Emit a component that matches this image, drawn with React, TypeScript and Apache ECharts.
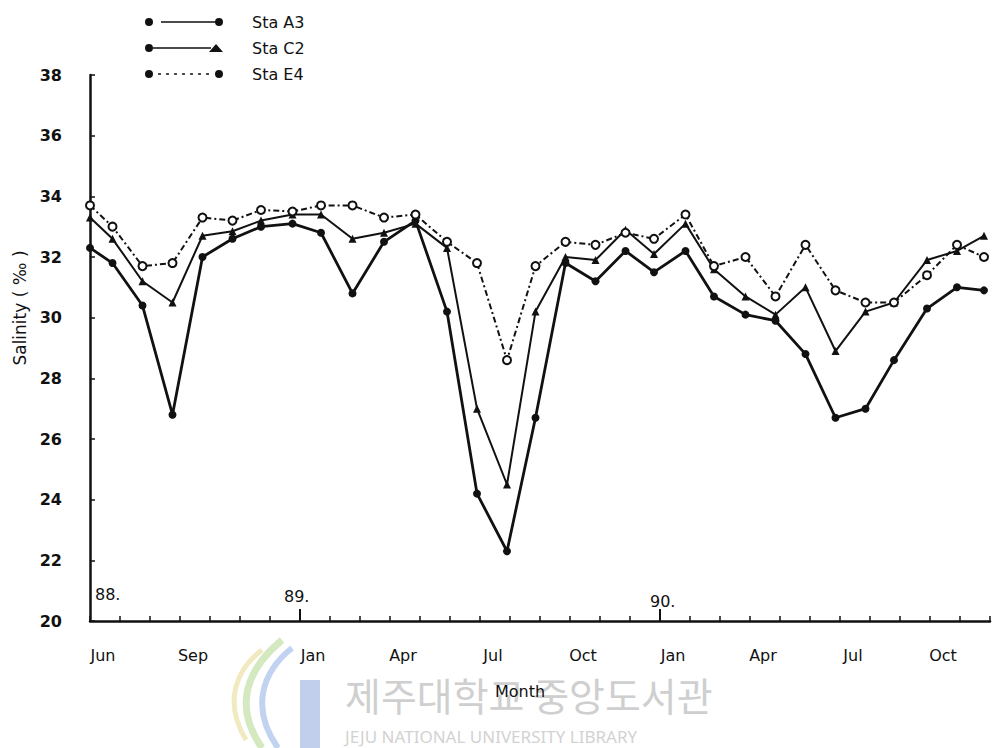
import React, { useEffect, useRef } from "react";
import * as echarts from "echarts";

// sampling times, in months after June 1988 (0 = Jun 88)
const sampleMonth = [0, 0.75, 1.75, 2.75, 3.75, 4.75, 5.7, 6.75, 7.7, 8.75, 9.8, 10.85, 11.9, 12.9, 13.9, 14.85, 15.85, 16.85, 17.85, 18.8, 19.85, 20.8, 21.85, 22.85, 23.85, 24.85, 25.85, 26.8, 27.9, 28.9, 29.8];

const staA3 = [32.3, 31.8, 30.4, 26.8, 32.0, 32.6, 33.0, 33.1, 32.8, 30.8, 32.5, 33.2, 30.2, 24.2, 22.3, 26.7, 31.8, 31.2, 32.2, 31.5, 32.2, 30.7, 30.1, 29.9, 28.8, 26.7, 27.0, 28.6, 30.3, 31.0, 30.9];
const staC2 = [33.3, 32.6, 31.2, 30.5, 32.7, 32.85, 33.2, 33.4, 33.4, 32.6, 32.8, 33.1, 32.3, 27.0, 24.5, 30.2, 32.0, 31.9, 32.9, 32.1, 33.1, 31.6, 30.7, 30.1, 31.0, 28.9, 30.2, 30.5, 31.9, 32.2, 32.7];
const staE4 = [33.7, 33.0, 31.7, 31.8, 33.3, 33.2, 33.55, 33.5, 33.7, 33.7, 33.3, 33.4, 32.5, 31.8, 28.6, 31.7, 32.5, 32.4, 32.8, 32.6, 33.4, 31.7, 32.0, 30.7, 32.4, 30.9, 30.5, 30.5, 31.4, 32.4, 32.0];

const monthTickIndex = [0, 3, 7, 10, 13, 16, 19, 22, 25, 28];
const monthTickLabels = ["Jun", "Sep", "Jan", "Apr", "Jul", "Oct", "Jan", "Apr", "Jul", "Oct"];
const januaryIndex = [7, 19];
const yearLabels = ["88.", "89.", "90."];

const seriesNames = ["Sta A3", "Sta C2", "Sta E4"];

const FONT = "DejaVu Sans";
const INK = "#111111";

const iconA3 = "path://M0,4a4,4 0 1,0 8,0a4,4 0 1,0 -8,0Z M16,3.2h54v1.6h-54Z M70,4a4,4 0 1,0 8,0a4,4 0 1,0 -8,0Z";
const iconC2 = "path://M0,4a4,4 0 1,0 8,0a4,4 0 1,0 -8,0Z M8,3.2h58v1.6h-58Z M64,8L71,0L78,8Z";
const iconE4 = "path://M0,4a4,4 0 1,0 8,0a4,4 0 1,0 -8,0Z M13,3.2h3v1.6h-3Z M21,3.2h3v1.6h-3Z M29,3.2h3v1.6h-3Z M37,3.2h3v1.6h-3Z M45,3.2h3v1.6h-3Z M53,3.2h3v1.6h-3Z M61,3.2h3v1.6h-3Z M70,4a4,4 0 1,0 8,0a4,4 0 1,0 -8,0Z";

export default function App() {
  const ref = useRef<HTMLDivElement>(null);

  useEffect(() => {
    document.body.style.margin = "0";
    const chart = echarts.init(ref.current!, null, { renderer: "svg" });
    const toPairs = (vals: number[]) => sampleMonth.map((m, i) => [m, vals[i]]);

    const option: any = {
      animation: false,
      backgroundColor: "#ffffff",
      textStyle: { fontFamily: FONT, color: INK },
      grid: { left: 90, right: 2, top: 75, bottom: 127 },
      legend: {
        orient: "vertical",
        left: 140,
        top: 9,
        itemWidth: 78,
        itemHeight: 8,
        itemGap: 10,
        selectedMode: false,
        textStyle: { fontFamily: FONT, fontSize: 16, color: INK, padding: [0, 0, 0, 24] },
        data: [
          { name: seriesNames[0], icon: iconA3 },
          { name: seriesNames[1], icon: iconC2 },
          { name: seriesNames[2], icon: iconE4 },
        ],
      },
      xAxis: [
        {
          type: "value",
          min: 0,
          max: 30,
          interval: 1,
          name: "Month",
          nameLocation: "middle",
          nameGap: 62,
          nameTextStyle: { fontFamily: FONT, fontSize: 16, color: INK, padding: [0, 40, 0, 0] },
          axisLine: { show: true, lineStyle: { color: INK, width: 2.5 } },
          axisTick: { show: true, inside: true, length: 5, lineStyle: { color: INK, width: 1.5 } },
          axisLabel: {
            customValues: monthTickIndex,
            formatter: (v: number) => {
              const k = monthTickIndex.indexOf(Math.round(v));
              return k >= 0 ? monthTickLabels[k] : "";
            },
            fontFamily: FONT,
            fontSize: 16,
            color: INK,
            margin: 26,
            padding: [0, 0, 0, 26],
          },
          splitLine: { show: false },
        },
        {
          type: "value",
          min: 0,
          max: 30,
          interval: 1,
          position: "bottom",
          axisLine: { show: false },
          axisTick: { show: true, inside: true, length: 12, customValues: januaryIndex, lineStyle: { color: INK, width: 2 } },
          axisLabel: { show: false },
          splitLine: { show: false },
        },
      ],
      yAxis: {
        type: "value",
        min: 20,
        max: 38,
        interval: 2,
        name: "Salinity ( ‰ )",
        nameLocation: "middle",
        nameGap: 62,
        nameTextStyle: { fontFamily: FONT, fontSize: 17, color: INK, padding: [0, 0, 0, 80] },
        axisLine: { show: true, lineStyle: { color: INK, width: 2.5 } },
        axisTick: { show: true, inside: true, length: 5, lineStyle: { color: INK, width: 1.5 } },
        axisLabel: { fontFamily: FONT, fontSize: 16, fontWeight: "bold", color: INK, margin: 28 },
        splitLine: { show: false },
      },
      series: [
        {
          name: seriesNames[0],
          type: "line",
          data: toPairs(staA3),
          symbol: "circle",
          symbolSize: 8,
          lineStyle: { color: INK, width: 2.8 },
          itemStyle: { color: INK },
          z: 3,
        },
        {
          name: seriesNames[1],
          type: "line",
          data: toPairs(staC2),
          symbol: "triangle",
          symbolSize: 8,
          lineStyle: { color: INK, width: 2 },
          itemStyle: { color: INK },
          z: 4,
        },
        {
          name: seriesNames[2],
          type: "line",
          data: toPairs(staE4),
          symbol: "emptyCircle",
          symbolSize: 8,
          lineStyle: { color: INK, width: 2, type: [6, 3, 2, 3] },
          itemStyle: { color: INK, borderWidth: 2 },
          z: 5,
        },
      ],
      graphic: [
        { type: "text", left: 95, top: 586, z: 10, style: { text: yearLabels[0], fontFamily: FONT, fontSize: 16, fill: INK } },
        { type: "text", left: 284, top: 588, z: 10, style: { text: yearLabels[1], fontFamily: FONT, fontSize: 16, fill: INK } },
        { type: "text", left: 650, top: 593, z: 10, style: { text: yearLabels[2], fontFamily: FONT, fontSize: 16, fill: INK } },
        // library watermark
        { type: "rect", z: -10, shape: { x: 300, y: 680, width: 20, height: 68 }, style: { fill: "#8ea8dc", opacity: 0.55 } },
        { type: "bezierCurve", z: -10, shape: { x1: 262, y1: 748, cpx1: 232, cpy1: 705, cpx2: 248, cpy2: 668, x2: 282, y2: 640 }, style: { stroke: "#c9e3b0", lineWidth: 7, fill: null, opacity: 0.8 } },
        { type: "bezierCurve", z: -10, shape: { x1: 278, y1: 748, cpx1: 250, cpy1: 708, cpx2: 262, cpy2: 672, x2: 292, y2: 648 }, style: { stroke: "#b3c8ee", lineWidth: 6, fill: null, opacity: 0.8 } },
        { type: "bezierCurve", z: -10, shape: { x1: 246, y1: 740, cpx1: 222, cpy1: 700, cpx2: 238, cpy2: 668, x2: 262, y2: 650 }, style: { stroke: "#eee3b0", lineWidth: 5, fill: null, opacity: 0.8 } },
        { type: "text", z: -10, left: 345, top: 674, style: { text: "제주대학교 중앙도서관", fontFamily: "Noto Sans CJK KR", fontSize: 39, lineHeight: 40, fill: "#cfcfcf" } },
        { type: "text", z: -10, left: 345, top: 728, style: { text: "JEJU NATIONAL UNIVERSITY LIBRARY", fontFamily: "Noto Sans", fontSize: 17, lineHeight: 17, fill: "#d2d2d2" } },
      ],
    };

    chart.setOption(option);
    return () => chart.dispose();
  }, []);

  return <div ref={ref} style={{ width: 992, height: 748 }} />;
}
